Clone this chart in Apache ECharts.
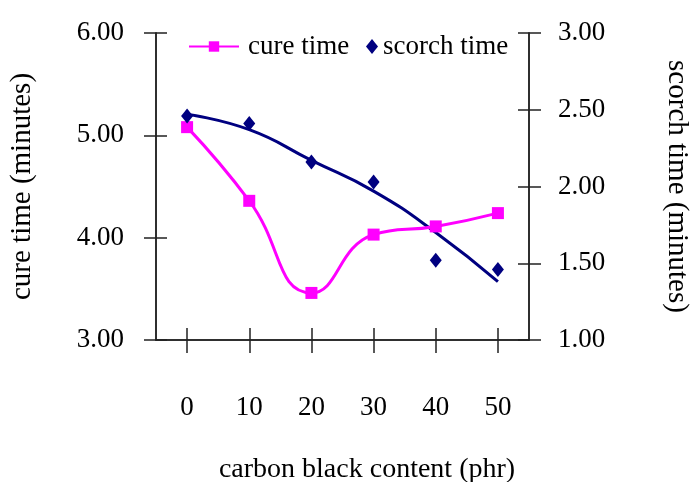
<!DOCTYPE html>
<html>
<head>
<meta charset="utf-8">
<script src="https://cdn.jsdelivr.net/npm/echarts@6/dist/echarts.min.js"></script>
<style>html,body{margin:0;padding:0;background:#fff}#c{width:690px;height:482px}</style>
</head>
<body>
<div id="c"></div>
<script>
const categories = ['0', '10', '20', '30', '40', '50'];
const cureTime = [5.08, 4.36, 3.46, 4.03, 4.11, 4.24];
const scorchTime = [2.46, 2.41, 2.16, 2.03, 1.52, 1.46];
const scorchTrend = [2.47, 2.37, 2.17, 1.97, 1.70, 1.38];
const leftTicks = [3, 4, 5, 6];
const rightTicks = [1.0, 1.5, 2.0, 2.5, 3.0];

const FONT = "'Liberation Serif', 'Times New Roman', serif";
const chart = echarts.init(document.getElementById('c'));

const ls = () => ({ color: '#222', width: 1.5 });
const hiddenLabel = () => ({ show: true, color: 'rgba(0,0,0,0)', fontSize: 10 });
chart.setOption({
  animation: false,
  backgroundColor: '#fff',
  textStyle: { fontFamily: FONT, color: '#000' },
  grid: { left: 156, right: 161, top: 33, bottom: 142, containLabel: false, outerBoundsMode: 'none' },
  legend: [
    {
      data: ['cure time'], left: 183, top: 28, itemWidth: 50, itemHeight: 13,
      textStyle: { fontFamily: FONT, fontSize: 27, color: '#000', padding: [0, 0, 0, 4] }
    },
    {
      data: [{ name: 'scorch time', icon: 'diamond' }], left: 361, top: 28, itemWidth: 12, itemHeight: 15,
      textStyle: { fontFamily: FONT, fontSize: 27, color: '#000' }
    }
  ],
  xAxis: [
    {
      type: 'category', data: categories, position: 'bottom', boundaryGap: true,
      axisLine: { show: true, lineStyle: ls() },
      axisTick: { show: true, alignWithLabel: true, length: 13, lineStyle: ls() },
      axisLabel: { fontFamily: FONT, fontSize: 27, color: '#000', margin: 54 },
      name: 'carbon black content (phr)', nameLocation: 'middle', nameGap: 116,
      nameTextStyle: { fontFamily: FONT, fontSize: 28, color: '#000', padding: [0, 0, 0, 49] }
    },
    {
      type: 'category', data: categories, position: 'bottom', boundaryGap: true,
      axisLine: { show: true, lineStyle: ls() },
      axisTick: { show: true, alignWithLabel: true, inside: true, length: 12, lineStyle: ls() },
      axisLabel: hiddenLabel()
    }
  ],
  yAxis: [
    {
      type: 'value', position: 'left', min: leftTicks[0], max: leftTicks[leftTicks.length - 1], interval: 1,
      splitLine: { show: false },
      axisLine: { show: true, lineStyle: ls() },
      axisTick: { show: true, length: 12, lineStyle: ls() },
      axisLabel: { fontFamily: FONT, fontSize: 27, color: '#000', margin: 32, formatter: v => v.toFixed(2) },
      name: 'cure time (minutes)', nameLocation: 'middle', nameGap: 119,
      nameTextStyle: { fontFamily: FONT, fontSize: 29, color: '#000' }
    },
    {
      type: 'value', position: 'left', min: leftTicks[0], max: leftTicks[leftTicks.length - 1],
      splitNumber: leftTicks.length - 1,
      axisLine: { show: true, lineStyle: ls() },
      axisTick: { show: true, inside: true, length: 11, lineStyle: ls() },
      axisLabel: hiddenLabel(), splitLine: { show: false }
    },
    {
      type: 'value', position: 'right', min: rightTicks[0], max: rightTicks[rightTicks.length - 1], interval: 0.5,
      splitLine: { show: false },
      axisLine: { show: true, lineStyle: ls() },
      axisTick: { show: true, length: 12, lineStyle: ls() },
      axisLabel: { fontFamily: FONT, fontSize: 27, color: '#000', margin: 29, formatter: v => v.toFixed(2) },
      name: 'scorch time (minutes)', nameLocation: 'middle', nameGap: 133, nameRotate: -90,
      nameTextStyle: { fontFamily: FONT, fontSize: 29, color: '#000' }
    },
    {
      type: 'value', position: 'right', min: rightTicks[0], max: rightTicks[rightTicks.length - 1],
      splitNumber: rightTicks.length - 1,
      axisLine: { show: true, lineStyle: ls() },
      axisTick: { show: true, inside: true, length: 11, lineStyle: ls() },
      axisLabel: hiddenLabel(), splitLine: { show: false }
    }
  ],
  series: [
    {
      name: 'scorch trend', type: 'line', xAxisIndex: 0, yAxisIndex: 2, data: scorchTrend,
      smooth: 0.5, showSymbol: false, symbol: 'none',
      lineStyle: { color: '#000080', width: 3 }, z: 2
    },
    {
      name: 'cure time', type: 'line', xAxisIndex: 0, yAxisIndex: 0, data: cureTime,
      smooth: 0.5, symbol: 'rect', symbolSize: 12,
      itemStyle: { color: '#FF00FF' }, lineStyle: { color: '#FF00FF', width: 3 }, z: 3
    },
    {
      name: 'scorch time', type: 'scatter', xAxisIndex: 0, yAxisIndex: 2, data: scorchTime,
      symbol: 'diamond', symbolSize: [12, 15],
      itemStyle: { color: '#000080', opacity: 1 }, z: 4
    }
  ]
});
</script>
</body>
</html>
